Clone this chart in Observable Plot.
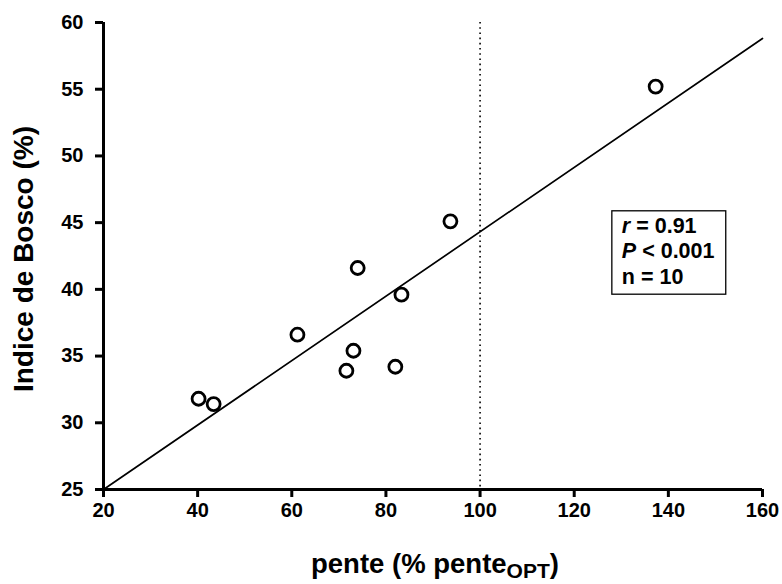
<!DOCTYPE html>
<html>
<head>
<meta charset="utf-8">
<script src="https://cdn.jsdelivr.net/npm/d3@7"></script>
<script src="https://cdn.jsdelivr.net/npm/@observablehq/plot@0.6"></script>
<style>
  html, body { margin: 0; padding: 0; background: #fff; }
  #chart { width: 782px; height: 584px; }
</style>
</head>
<body>
<div id="chart"></div>
<script>
// Data
const pente = [40.2, 43.4, 61.2, 71.6, 73.1, 74.0, 82.0, 83.3, 93.7, 137.3];
const bosco = [31.8, 31.4, 36.6, 33.9, 35.4, 41.6, 34.2, 39.6, 45.1, 55.2];
const fitX = [20, 160];
const fitY = [25, 58.8];
const optimum = [100];
const xTicks = [20, 40, 60, 80, 100, 120, 140, 160];
const yTicks = [25, 30, 35, 40, 45, 50, 55, 60];
const statsLines = [
  {it: "r", rest: " = 0.91"},
  {it: "P", rest: " < 0.001"},
  {it: "", rest: "n = 10"}
];
const statsBox = {x1: 128.1, x2: 152.3, y1: 45.85, y2: 39.6};
const xLabel = ["pente (% pente", "OPT", ")"];
const yLabel = "Indice de Bosco (%)";

const points = pente.map((x, i) => ({x, y: bosco[i]}));
const fit = fitX.map((x, i) => ({x, y: fitY[i]}));

const font = "'Liberation Sans', Arial, sans-serif";

const statsMark = (index, scales, values, dimensions, context) => {
  const g = d3.create("svg:g").attr("class", "custom");
  const x1 = scales.x(statsBox.x1), x2 = scales.x(statsBox.x2);
  const y1 = scales.y(statsBox.y1), y2 = scales.y(statsBox.y2);
  g.append("rect").attr("x", x1).attr("y", y1).attr("width", x2 - x1).attr("height", y2 - y1)
    .attr("fill", "white").attr("stroke", "black").attr("stroke-width", 1.3);
  statsLines.forEach((l, i) => {
    const t = g.append("text").attr("x", x1 + 10).attr("y", y1 + 22 + i * 25.5)
      .attr("text-anchor", "start")
      .style("font-family", font).style("font-size", "21.5px").style("font-weight", "bold");
    if (l.it) t.append("tspan").style("font-style", "italic").text(l.it);
    t.append("tspan").text(l.rest);
  });
  return g.node();
};

const labelsMark = (index, scales, values, dimensions, context) => {
  const g = d3.create("svg:g").attr("class", "custom");
  const t = g.append("text").attr("x", 435).attr("y", 573).attr("text-anchor", "middle")
    .style("font-family", font).style("font-size", "27.5px").style("font-weight", "bold");
  t.append("tspan").text(xLabel[0]);
  t.append("tspan").style("font-size", "21px").attr("dy", 5).text(xLabel[1]);
  t.append("tspan").attr("dy", -5).text(xLabel[2]);
  g.append("text").attr("transform", `translate(33,259) rotate(-90)`).attr("text-anchor", "middle")
    .style("font-family", font).style("font-size", "28px").style("font-weight", "bold").text(yLabel);
  return g.node();
};

const chart = Plot.plot({
  width: 782,
  height: 584,
  marginLeft: 103,
  marginRight: 20,
  marginTop: 22,
  marginBottom: 95,
  style: {fontFamily: font, background: "white", fontWeight: "bold", color: "black"},
  x: {domain: [20, 160]},
  y: {domain: [25, 60]},
  marks: [
    Plot.ruleX(optimum, {stroke: "black", strokeWidth: 1.6, strokeDasharray: "1.6,3.6"}),
    Plot.line(fit, {x: "x", y: "y", stroke: "black", strokeWidth: 1.7}),
    Plot.dot(points, {x: "x", y: "y", r: 6.5, stroke: "black", strokeWidth: 2.8, fill: "white"}),
    Plot.axisX({ticks: xTicks, tickSize: 8, tickPadding: 5, strokeWidth: 3, label: null, tickFormat: d => String(d)}),
    Plot.axisY({ticks: yTicks, tickSize: 8, tickPadding: 12, strokeWidth: 3, label: null, tickFormat: d => String(d)}),
    Plot.ruleY([25], {stroke: "black", strokeWidth: 3}),
    Plot.ruleX([20], {stroke: "black", strokeWidth: 3}),
    statsMark,
    labelsMark
  ]
});
const svg = d3.select(chart);
svg.selectAll("text").filter(function () { return !this.closest(".custom"); })
  .style("font-size", "20px").style("font-weight", "bold").style("fill", "black");
svg.selectAll("g[aria-label$='axis tick'], g[aria-label$='axis tick'] *")
  .style("stroke-width", "3px").style("stroke", "black");
document.getElementById("chart").appendChild(chart);
</script>
</body>
</html>
